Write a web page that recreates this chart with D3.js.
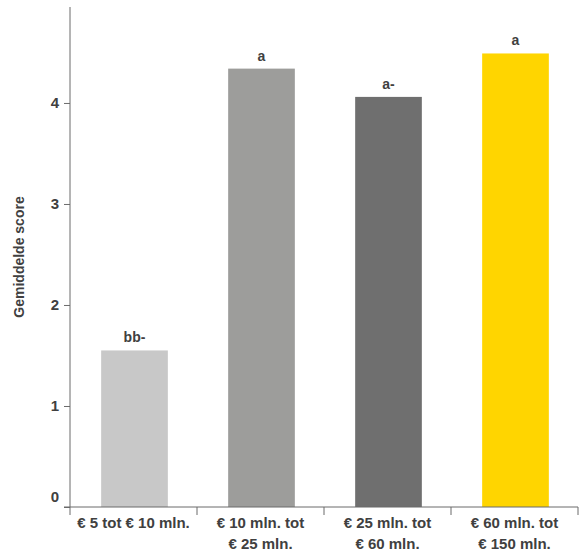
<!DOCTYPE html>
<html>
<head>
<meta charset="utf-8">
<script src="https://cdn.jsdelivr.net/npm/d3@7"></script>
<style>
  html, body { margin: 0; padding: 0; background: #fff; }
  svg { display: block; }
  text { font-family: "Liberation Sans", Arial, sans-serif; font-weight: bold; }
</style>
</head>
<body>
<svg id="chart" width="581" height="551"></svg>
<script>
// Omzetklassen en gemiddelde scores
const categories = [
  ["€ 5 tot € 10 mln."],
  ["€ 10 mln. tot", "€ 25 mln."],
  ["€ 25 mln. tot", "€ 60 mln."],
  ["€ 60 mln. tot", "€ 150 mln."]
];
const scores = [1.55, 4.34, 4.06, 4.49];
const groupLabels = ["bb-", "a", "a-", "a"];
const barColors = ["#c8c8c8", "#9d9d9b", "#6f6f6f", "#ffd500"];
const yTicks = [0, 1, 2, 3, 4];
const yTitle = "Gemiddelde score";

const svg = d3.select("#chart");
const margin = { top: 7, right: 3, bottom: 44, left: 70 };
const W = 581, H = 551;
const ids = categories.map((d, i) => i);

const x = d3.scaleBand().domain(ids).range([margin.left, W - margin.right]).padding(0);
const y = d3.scaleLinear().domain([0, 4.95]).range([H - margin.bottom, margin.top]);
const barW = x.bandwidth() * 0.525;

const axisColor = "#6b6b6b";
const textColor = "#404040";

// balken
svg.append("g").selectAll("rect").data(ids).join("rect")
  .attr("x", i => x(i) + x.bandwidth() / 2 - barW / 2 + 1)
  .attr("y", i => y(scores[i]))
  .attr("width", barW)
  .attr("height", i => y(0) - y(scores[i]))
  .attr("fill", i => barColors[i]);

// letters boven de balken
svg.append("g").selectAll("text").data(ids).join("text")
  .attr("x", i => x(i) + x.bandwidth() / 2 + 1)
  .attr("y", i => y(scores[i]) - 8)
  .attr("text-anchor", "middle")
  .attr("font-size", 14)
  .attr("fill", textColor)
  .text(i => groupLabels[i]);

// y-as
const yAxis = svg.append("g")
  .attr("transform", `translate(${margin.left},0)`)
  .call(d3.axisLeft(y).tickValues(yTicks).tickFormat(d3.format("d")).tickSize(6).tickPadding(5));
yAxis.select(".domain").attr("stroke", axisColor).attr("d", `M0,${y.range()[1]}V${y(0)}`);
yAxis.selectAll(".tick line").attr("stroke", axisColor);
yAxis.selectAll(".tick text")
  .attr("font-size", 15).attr("font-family", "Liberation Sans, Arial, sans-serif")
  .attr("font-weight", "bold").attr("fill", textColor)
  .attr("dy", d => d === 0 ? "-0.4em" : "0.33em");

// x-as met streepjes op de klassegrenzen
const xg = svg.append("g").attr("transform", `translate(0,${y(0)})`);
xg.append("line")
  .attr("x1", margin.left - 6).attr("x2", W - margin.right)
  .attr("stroke", axisColor);
const bounds = ids.map(i => x(i)).concat([x(ids[ids.length - 1]) + x.bandwidth()]);
xg.selectAll("line.b").data(bounds).join("line").attr("class", "b")
  .attr("x1", d => d).attr("x2", d => d)
  .attr("y1", 0).attr("y2", 8)
  .attr("stroke", axisColor);
const xl = xg.selectAll("text").data(ids).join("text")
  .attr("x", i => x(i) + x.bandwidth() / 2)
  .attr("text-anchor", "middle")
  .attr("font-size", 15)
  .attr("fill", textColor);
xl.each(function(i) {
  d3.select(this).selectAll("tspan").data(categories[i]).join("tspan")
    .attr("x", x(i) + x.bandwidth() / 2)
    .attr("y", (d, k) => 21 + k * 21)
    .text(d => d);
});

// as-titel
svg.append("text")
  .attr("transform", `translate(24,${(y(0) + y.range()[1]) / 2}) rotate(-90)`)
  .attr("text-anchor", "middle")
  .attr("font-size", 14)
  .attr("fill", textColor)
  .text(yTitle);
</script>
</body>
</html>
